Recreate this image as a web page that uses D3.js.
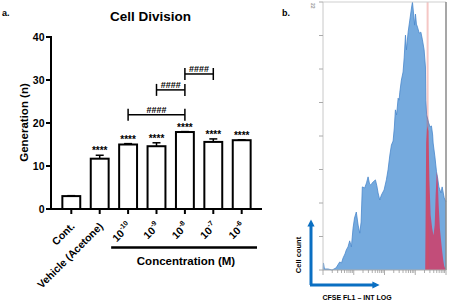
<html>
<head>
<meta charset="utf-8">
<script src="https://d3js.org/d3.v7.min.js"></script>
<style>
  body { margin: 0; background: white; }
  text { font-family: "Liberation Sans", Arial, sans-serif; font-weight: bold; }
</style>
</head>
<body>
<svg id="chart" width="450" height="303"></svg>
<script>
// panel a data
const categories = ["Cont.", "Vehicle (Acetone)", "10^-10", "10^-9", "10^-8", "10^-7", "10^-6"];
const means = [3.0, 11.7, 15.0, 14.6, 17.9, 15.6, 16.0];
const errors = [0.1, 0.8, 0.2, 0.8, 0.1, 0.7, 0.1];
const stars = ["", "****", "****", "****", "****", "****", "****"];
const yTicks = [0, 10, 20, 30, 40];
const bracketFrom = ["10^-10", "10^-9", "10^-8"];
const bracketTo = ["10^-8", "10^-8", "10^-7"];
const bracketLevel = [21.9, 27.7, 31.4];
const bracketLabel = ["####", "####", "####"];

// panel b data (CFSE histogram, channel vs count)
const cfseChannel = [0,4,12,42,75,108,139,154,167,183,194,208,222,236,250,262,277,292,306,317,327,347,362,375,387,397,417,436,448,458,472,486,508,527,541,556,569,583,593,602,612,625,633,639,652,666,675,686,694,708,722,736,744,756,762,769,777,786,800,814,827,841,852,855,862,879,891,902,912,916,931,944,952,964,981,991,1008,1023];
const cfseCount = [0,21,3,3,0,6,24,21,36,48,60,69,87,69,125,155,173,134,110,143,248,245,260,278,257,254,263,269,251,230,209,224,239,269,299,343,373,385,424,478,463,513,507,531,567,591,633,701,657,710,746,782,800,755,731,764,734,725,707,710,687,657,606,507,463,439,427,430,403,379,337,293,278,248,230,248,215,203];
const gateChannel = [850,858,866,877,885,895,908,919,929,937,946,954,962,972,983,991,1000,1008,1021];
const gateCount = [0,380,430,415,269,164,125,104,134,224,293,269,194,125,84,57,30,12,0];
const gatePosition = 870;
const countTicks = [0, 100, 200, 300, 400, 500, 600, 700, 800];

const svg = d3.select("#chart");

// ---------- panel a ----------
const x = d3.scaleBand().domain(categories).range([51, 262]).paddingInner(0.37).paddingOuter(0.4);
const y = d3.scaleLinear().domain([0, 40]).range([209, 37]);

svg.append("text").attr("x", 2).attr("y", 15.5).attr("font-size", 9).text("a.");
svg.append("text").attr("x", 150.5).attr("y", 20.5).attr("font-size", 13.5)
   .attr("text-anchor", "middle").text("Cell Division");

// y axis
const yAxis = svg.append("g");
yAxis.append("line").attr("x1", 51).attr("x2", 51).attr("y1", y(40) - 1).attr("y2", y(0) + 1)
     .attr("stroke", "black").attr("stroke-width", 2);
yAxis.selectAll("line.tick").data(yTicks).join("line").attr("class", "tick")
     .attr("x1", 46).attr("x2", 51).attr("y1", d => y(d)).attr("y2", d => y(d))
     .attr("stroke", "black").attr("stroke-width", 2);
yAxis.selectAll("text").data(yTicks).join("text")
     .attr("x", 44.5).attr("y", d => y(d)).attr("dy", "0.36em")
     .attr("text-anchor", "end").attr("font-size", 10.5).text(d => d);
svg.append("text").attr("transform", "translate(28,122.5) rotate(-90)")
   .attr("text-anchor", "middle").attr("font-size", 11.5).text("Generation (n)");

// x axis
svg.append("line").attr("x1", 50).attr("x2", 262).attr("y1", y(0)).attr("y2", y(0))
   .attr("stroke", "black").attr("stroke-width", 2);

const bars = svg.selectAll("g.bar").data(categories).join("g").attr("class", "bar");
bars.append("rect")
    .attr("x", d => x(d)).attr("width", x.bandwidth())
    .attr("y", (d, i) => y(means[i])).attr("height", (d, i) => y(0) - y(means[i]))
    .attr("fill", "white").attr("stroke", "black").attr("stroke-width", 2);
bars.append("line")
    .attr("x1", d => x(d) + x.bandwidth() / 2).attr("x2", d => x(d) + x.bandwidth() / 2)
    .attr("y1", (d, i) => y(means[i])).attr("y2", (d, i) => y(means[i] + errors[i]))
    .attr("stroke", "black").attr("stroke-width", 1.5);
bars.append("line")
    .attr("x1", d => x(d) + x.bandwidth() / 2 - 4).attr("x2", d => x(d) + x.bandwidth() / 2 + 4)
    .attr("y1", (d, i) => y(means[i] + errors[i])).attr("y2", (d, i) => y(means[i] + errors[i]))
    .attr("stroke", "black").attr("stroke-width", 1.5);
bars.append("text")
    .attr("x", d => x(d) + x.bandwidth() / 2)
    .attr("y", (d, i) => y(means[i] + errors[i]) - 1)
    .attr("text-anchor", "middle").attr("font-size", 10).text((d, i) => stars[i]);
bars.append("line")
    .attr("x1", d => x(d) + x.bandwidth() / 2).attr("x2", d => x(d) + x.bandwidth() / 2)
    .attr("y1", y(0)).attr("y2", y(0) + 5)
    .attr("stroke", "black").attr("stroke-width", 2);

// rotated category labels
bars.append("text")
    .attr("transform", d => `translate(${x(d) + x.bandwidth() / 2 + 4},227) rotate(-45)`)
    .attr("text-anchor", "end").attr("font-size", 10.5)
    .each(function(d) {
        const t = d3.select(this);
        const parts = d.split("^");
        t.append("tspan").text(parts[0]);
        if (parts.length > 1) {
            t.append("tspan").attr("font-size", 7).attr("dy", -5).text(parts[1]);
        }
    });

// significance brackets
bracketFrom.forEach((from, i) => {
    const x1 = x(from) + x.bandwidth() / 2;
    const x2 = x(bracketTo[i]) + x.bandwidth() / 2;
    const yy = y(bracketLevel[i]);
    const g = svg.append("g").attr("stroke", "black").attr("stroke-width", 1.5);
    g.append("line").attr("x1", x1).attr("x2", x2).attr("y1", yy).attr("y2", yy);
    g.append("line").attr("x1", x1).attr("x2", x1).attr("y1", yy - 6).attr("y2", yy + 6);
    g.append("line").attr("x1", x2).attr("x2", x2).attr("y1", yy - 6).attr("y2", yy + 6);
    svg.append("text").attr("x", (x1 + x2) / 2).attr("y", yy - 1.5)
       .attr("text-anchor", "middle").attr("font-size", 9).attr("font-weight", "normal")
       .text(bracketLabel[i]);
});

// concentration group line
const concStart = x(categories[2]) - 8;
svg.append("line").attr("x1", concStart).attr("x2", 257).attr("y1", 247.5).attr("y2", 247.5)
   .attr("stroke", "black").attr("stroke-width", 2.5);
svg.append("text").attr("x", 186).attr("y", 265).attr("text-anchor", "middle")
   .attr("font-size", 11.5).text("Concentration (M)");

// ---------- panel b ----------
const hx = d3.scaleLinear().domain([0, 1023]).range([323, 446]);
const hy = d3.scaleLinear().domain([0, 800]).range([270, 2]);
const logX = d3.scaleLog().domain([1, 10000]).range([323, 446]);

svg.append("text").attr("x", 282).attr("y", 16).attr("font-size", 9).text("b.");
svg.append("text").attr("transform", "translate(311,3) rotate(90)")
   .attr("font-size", 5).attr("font-weight", "normal").attr("fill", "#999").text("22");

const cfse = cfseChannel.map((c, i) => [c, cfseCount[i]]);
const gate = gateChannel.map((c, i) => [c, gateCount[i]]);

svg.append("path").datum(cfse)
   .attr("d", d3.area().x(d => hx(d[0])).y0(hy(0)).y1(d => hy(d[1])))
   .attr("fill", "#75aade");
svg.append("path").datum(cfse)
   .attr("d", d3.line().x(d => hx(d[0])).y(d => hy(d[1])))
   .attr("fill", "none").attr("stroke", "#4a88cc").attr("stroke-width", 0.8);
svg.append("path").datum(gate)
   .attr("d", d3.area().x(d => hx(d[0])).y0(hy(0)).y1(d => hy(d[1])))
   .attr("fill", "#c24d79");
svg.append("line").attr("x1", hx(gatePosition)).attr("x2", hx(gatePosition))
   .attr("y1", hy(800)).attr("y2", hy(0))
   .attr("stroke", "#e0504a").attr("stroke-opacity", 0.32).attr("stroke-width", 2);

// frame
svg.append("line").attr("x1", 323).attr("x2", 446).attr("y1", 2).attr("y2", 2)
   .attr("stroke", "#cfcfcf").attr("stroke-width", 1);
svg.append("line").attr("x1", 323).attr("x2", 323).attr("y1", 2).attr("y2", 270)
   .attr("stroke", "#c8c8c8").attr("stroke-width", 1);
svg.append("line").attr("x1", 446).attr("x2", 446).attr("y1", 2).attr("y2", 270)
   .attr("stroke", "#8a8a8a").attr("stroke-width", 1.5);
svg.append("line").attr("x1", 323).attr("x2", 446).attr("y1", 270).attr("y2", 270)
   .attr("stroke", "#aaa").attr("stroke-width", 1);
svg.selectAll("line.ctick").data(countTicks).join("line").attr("class", "ctick")
   .attr("x1", 319).attr("x2", 323).attr("y1", d => hy(d)).attr("y2", d => hy(d))
   .attr("stroke", "#aaa").attr("stroke-width", 1);
svg.selectAll("line.ltick").data(logX.ticks()).join("line").attr("class", "ltick")
   .attr("x1", d => logX(d)).attr("x2", d => logX(d))
   .attr("y1", 270).attr("y2", d => Math.log10(d) % 1 === 0 ? 275 : 273)
   .attr("stroke", "#999").attr("stroke-width", 0.8);

// arrows
const defs = svg.append("defs");
defs.append("marker").attr("id", "head").attr("viewBox", "0 0 10 10")
    .attr("refX", 5).attr("refY", 5).attr("markerWidth", 2.4).attr("markerHeight", 2.4)
    .attr("orient", "auto")
    .append("path").attr("d", "M0,0 L10,5 L0,10 z").attr("fill", "#0a6fc2");
svg.append("path").attr("d", "M311,285 L311,223")
   .attr("stroke", "#0a6fc2").attr("stroke-width", 3).attr("fill", "none").attr("marker-end", "url(#head)");
svg.append("path").attr("d", "M310,285 L376,285")
   .attr("stroke", "#0a6fc2").attr("stroke-width", 3).attr("fill", "none").attr("marker-end", "url(#head)");
svg.append("text").attr("transform", "translate(301,255) rotate(-90)")
   .attr("text-anchor", "middle").attr("font-size", 7.5).text("Cell count");
svg.append("text").attr("x", 357).attr("y", 300).attr("text-anchor", "middle")
   .attr("font-size", 7).text("CFSE FL1 \u2013 INT LOG");
</script>
</body>
</html>
